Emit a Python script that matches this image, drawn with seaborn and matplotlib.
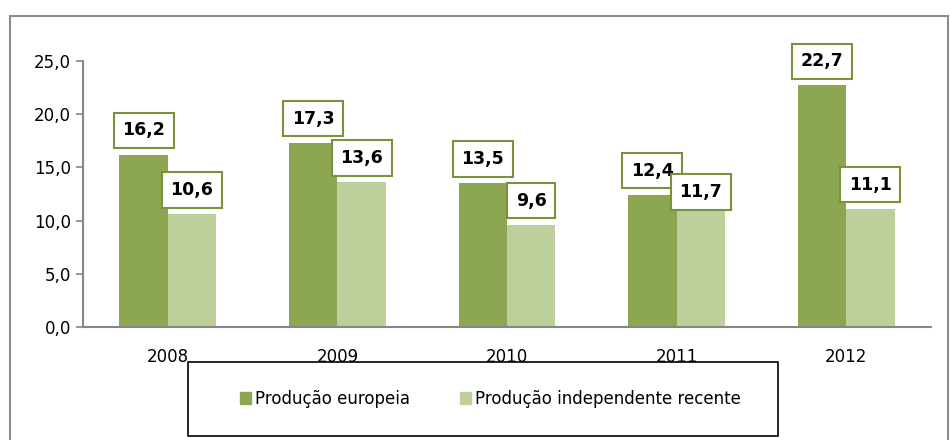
import pandas as pd
import matplotlib
matplotlib.use("Agg")
import matplotlib.pyplot as plt
import matplotlib.patches as mpatches
import seaborn as sns

# Data
anos = ["2008", "2009", "2010", "2011", "2012"]
europeia = [16.2, 17.3, 13.5, 12.4, 22.7]
independente = [10.6, 13.6, 9.6, 11.7, 11.1]
series = ["Produção europeia", "Produção independente recente"]

df = pd.DataFrame({
    "Ano": anos * 2,
    "Valor": europeia + independente,
    "Serie": [series[0]] * len(anos) + [series[1]] * len(anos),
})

cores = ["#8CA651", "#BDD09B"]
verde_borda = "#77933C"
cinza = "#868686"

sns.set_style("white")
plt.rcParams["font.family"] = ["DejaVu Sans"]
plt.rcParams["text.color"] = "black"
plt.rcParams["xtick.color"] = "black"
plt.rcParams["ytick.color"] = "black"

fig = plt.figure(figsize=(9.5, 4.4), dpi=100)
ax = fig.add_axes([83 / 950, 1 - 327 / 440, (931 - 83) / 950, (327 - 61) / 440])

sns.barplot(data=df, x="Ano", y="Valor", hue="Serie", palette=cores,
            width=0.57, saturation=1, linewidth=0, ax=ax, legend=False)

ax.set_ylim(0, 25)
ax.set_xlim(-0.5, len(anos) - 0.5)
ax.set_yticks([0, 5, 10, 15, 20, 25])
ax.set_yticklabels([f"{v:.1f}".replace(".", ",") for v in ax.get_yticks()],
                   fontsize=12)
ax.set_xticks(range(len(anos)))
ax.set_xticklabels(anos, fontsize=12)
ax.set_xticks([i + 0.5 for i in range(len(anos))], minor=True)
ax.tick_params(axis="x", which="major", length=0, pad=15, labelcolor="black")
ax.tick_params(axis="x", which="minor", length=5, color=cinza, width=1.2, direction="out")
ax.tick_params(axis="y", length=5, color=cinza, width=1.2, direction="out", left=True,
               labelcolor="black")
ax.set_xlabel("")
ax.set_ylabel("")
for s in ["top", "right"]:
    ax.spines[s].set_visible(False)
for s in ["left", "bottom"]:
    ax.spines[s].set_color(cinza)
    ax.spines[s].set_linewidth(1.5)

# data labels in boxes
nudge = {(1, 3): 1}  # label moved down by Excel to avoid overlap
for ci, cont in enumerate(ax.containers):
    for bi, bar in enumerate(cont):
        h = bar.get_height()
        dy = nudge.get((ci, bi), 11)
        ax.annotate(f"{h:.1f}".replace(".", ","),
                    xy=(bar.get_x() + bar.get_width() / 2, h),
                    xytext=(0, dy), textcoords="offset points",
                    ha="center", va="bottom", fontsize=12.5, fontweight="bold",
                    color="black", annotation_clip=False, zorder=5,
                    bbox=dict(boxstyle="square,pad=0.5", fc="white",
                              ec=verde_borda, lw=1.5))

# outer chart frame
fig.patches.append(mpatches.Rectangle((10 / 950, -0.05), 938 / 950, 1.05 - 16 / 440,
                                      transform=fig.transFigure, fill=False,
                                      ec="#8C8C8C", lw=1.5))
# legend frame
fig.patches.append(mpatches.Rectangle((188 / 950, 1 - 436 / 440), 590 / 950, 74 / 440,
                                      transform=fig.transFigure, fill=True,
                                      fc="white", ec="black", lw=1.2, zorder=3))

handles = [mpatches.Patch(color=c, label=s) for c, s in zip(cores, series)]
leg = fig.legend(handles=handles, loc="center", bbox_to_anchor=(490 / 950, 1 - 399 / 440),
                 ncol=2, frameon=False, fontsize=12, handlelength=0.7, handleheight=0.7,
                 handletextpad=0.2, columnspacing=3.0)
leg.set_zorder(4)

fig.savefig("out.png", dpi=100)
